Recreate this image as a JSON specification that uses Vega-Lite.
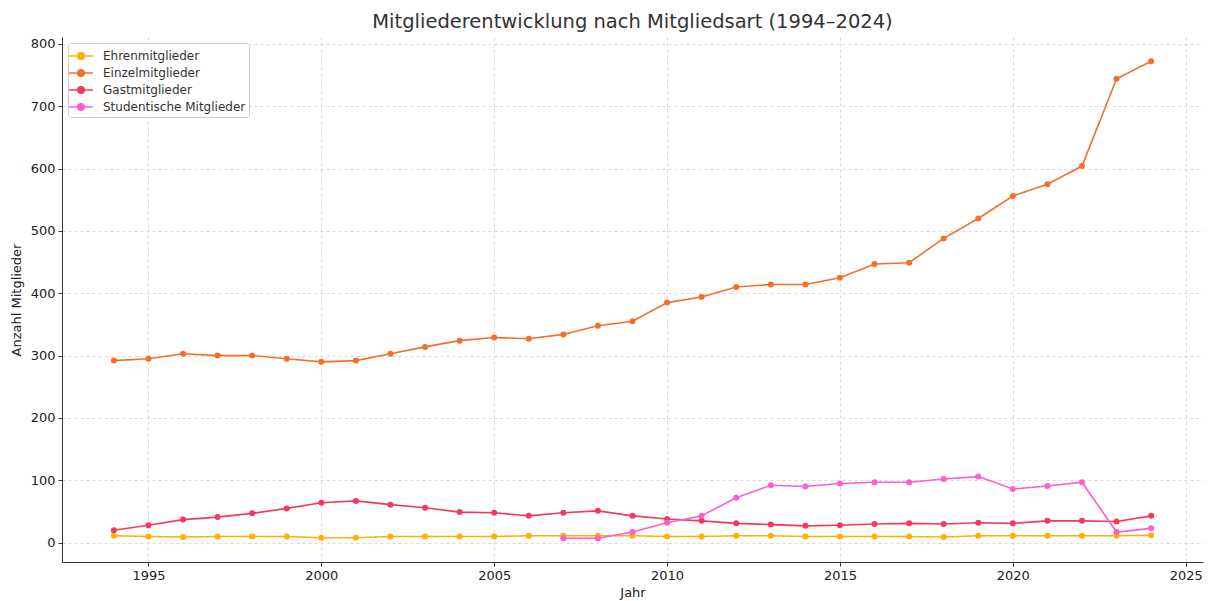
{
  "$schema": "https://vega.github.io/schema/vega-lite/v6.json",
  "width": 1141,
  "height": 525,
  "autosize": {"type": "none"},
  "padding": {"left": 62, "top": 37, "right": 7, "bottom": 39},
  "background": "white",
  "title": {
    "text": "Mitgliederentwicklung nach Mitgliedsart (1994–2024)",
    "font": "DejaVu Sans",
    "fontSize": 19.5,
    "fontWeight": "normal",
    "color": "#333333",
    "anchor": "middle",
    "offset": 5
  },
  "config": {
    "view": {"stroke": null},
    "font": "DejaVu Sans",
    "axis": {
      "labelFont": "DejaVu Sans",
      "titleFont": "DejaVu Sans",
      "labelFontSize": 13,
      "titleFontSize": 13,
      "titleFontWeight": "normal",
      "labelColor": "#222222",
      "titleColor": "#222222",
      "domainColor": "#333333",
      "tickColor": "#333333",
      "tickSize": 4,
      "gridColor": "#d0d0d0",
      "gridDash": [3, 3],
      "gridWidth": 0.8
    }
  },
  "data": {
    "values": [
      {"Jahr": 1994, "Art": "Ehrenmitglieder", "Anzahl": 11},
      {"Jahr": 1995, "Art": "Ehrenmitglieder", "Anzahl": 10},
      {"Jahr": 1996, "Art": "Ehrenmitglieder", "Anzahl": 9},
      {"Jahr": 1997, "Art": "Ehrenmitglieder", "Anzahl": 10},
      {"Jahr": 1998, "Art": "Ehrenmitglieder", "Anzahl": 10},
      {"Jahr": 1999, "Art": "Ehrenmitglieder", "Anzahl": 10},
      {"Jahr": 2000, "Art": "Ehrenmitglieder", "Anzahl": 8},
      {"Jahr": 2001, "Art": "Ehrenmitglieder", "Anzahl": 8},
      {"Jahr": 2002, "Art": "Ehrenmitglieder", "Anzahl": 10},
      {"Jahr": 2003, "Art": "Ehrenmitglieder", "Anzahl": 10},
      {"Jahr": 2004, "Art": "Ehrenmitglieder", "Anzahl": 10},
      {"Jahr": 2005, "Art": "Ehrenmitglieder", "Anzahl": 10},
      {"Jahr": 2006, "Art": "Ehrenmitglieder", "Anzahl": 11},
      {"Jahr": 2007, "Art": "Ehrenmitglieder", "Anzahl": 11},
      {"Jahr": 2008, "Art": "Ehrenmitglieder", "Anzahl": 11},
      {"Jahr": 2009, "Art": "Ehrenmitglieder", "Anzahl": 11},
      {"Jahr": 2010, "Art": "Ehrenmitglieder", "Anzahl": 10},
      {"Jahr": 2011, "Art": "Ehrenmitglieder", "Anzahl": 10},
      {"Jahr": 2012, "Art": "Ehrenmitglieder", "Anzahl": 11},
      {"Jahr": 2013, "Art": "Ehrenmitglieder", "Anzahl": 11},
      {"Jahr": 2014, "Art": "Ehrenmitglieder", "Anzahl": 10},
      {"Jahr": 2015, "Art": "Ehrenmitglieder", "Anzahl": 10},
      {"Jahr": 2016, "Art": "Ehrenmitglieder", "Anzahl": 10},
      {"Jahr": 2017, "Art": "Ehrenmitglieder", "Anzahl": 10},
      {"Jahr": 2018, "Art": "Ehrenmitglieder", "Anzahl": 9},
      {"Jahr": 2019, "Art": "Ehrenmitglieder", "Anzahl": 11},
      {"Jahr": 2020, "Art": "Ehrenmitglieder", "Anzahl": 11},
      {"Jahr": 2021, "Art": "Ehrenmitglieder", "Anzahl": 11},
      {"Jahr": 2022, "Art": "Ehrenmitglieder", "Anzahl": 11},
      {"Jahr": 2023, "Art": "Ehrenmitglieder", "Anzahl": 11},
      {"Jahr": 2024, "Art": "Ehrenmitglieder", "Anzahl": 12},
      {"Jahr": 1994, "Art": "Einzelmitglieder", "Anzahl": 292},
      {"Jahr": 1995, "Art": "Einzelmitglieder", "Anzahl": 295},
      {"Jahr": 1996, "Art": "Einzelmitglieder", "Anzahl": 303},
      {"Jahr": 1997, "Art": "Einzelmitglieder", "Anzahl": 300},
      {"Jahr": 1998, "Art": "Einzelmitglieder", "Anzahl": 300},
      {"Jahr": 1999, "Art": "Einzelmitglieder", "Anzahl": 295},
      {"Jahr": 2000, "Art": "Einzelmitglieder", "Anzahl": 290},
      {"Jahr": 2001, "Art": "Einzelmitglieder", "Anzahl": 292},
      {"Jahr": 2002, "Art": "Einzelmitglieder", "Anzahl": 303},
      {"Jahr": 2003, "Art": "Einzelmitglieder", "Anzahl": 314},
      {"Jahr": 2004, "Art": "Einzelmitglieder", "Anzahl": 324},
      {"Jahr": 2005, "Art": "Einzelmitglieder", "Anzahl": 329},
      {"Jahr": 2006, "Art": "Einzelmitglieder", "Anzahl": 327},
      {"Jahr": 2007, "Art": "Einzelmitglieder", "Anzahl": 334},
      {"Jahr": 2008, "Art": "Einzelmitglieder", "Anzahl": 348},
      {"Jahr": 2009, "Art": "Einzelmitglieder", "Anzahl": 355},
      {"Jahr": 2010, "Art": "Einzelmitglieder", "Anzahl": 385},
      {"Jahr": 2011, "Art": "Einzelmitglieder", "Anzahl": 394},
      {"Jahr": 2012, "Art": "Einzelmitglieder", "Anzahl": 410},
      {"Jahr": 2013, "Art": "Einzelmitglieder", "Anzahl": 414},
      {"Jahr": 2014, "Art": "Einzelmitglieder", "Anzahl": 414},
      {"Jahr": 2015, "Art": "Einzelmitglieder", "Anzahl": 425},
      {"Jahr": 2016, "Art": "Einzelmitglieder", "Anzahl": 447},
      {"Jahr": 2017, "Art": "Einzelmitglieder", "Anzahl": 449},
      {"Jahr": 2018, "Art": "Einzelmitglieder", "Anzahl": 488},
      {"Jahr": 2019, "Art": "Einzelmitglieder", "Anzahl": 520},
      {"Jahr": 2020, "Art": "Einzelmitglieder", "Anzahl": 556},
      {"Jahr": 2021, "Art": "Einzelmitglieder", "Anzahl": 575},
      {"Jahr": 2022, "Art": "Einzelmitglieder", "Anzahl": 604},
      {"Jahr": 2023, "Art": "Einzelmitglieder", "Anzahl": 744},
      {"Jahr": 2024, "Art": "Einzelmitglieder", "Anzahl": 772},
      {"Jahr": 1994, "Art": "Gastmitglieder", "Anzahl": 20},
      {"Jahr": 1995, "Art": "Gastmitglieder", "Anzahl": 28},
      {"Jahr": 1996, "Art": "Gastmitglieder", "Anzahl": 37},
      {"Jahr": 1997, "Art": "Gastmitglieder", "Anzahl": 41},
      {"Jahr": 1998, "Art": "Gastmitglieder", "Anzahl": 47},
      {"Jahr": 1999, "Art": "Gastmitglieder", "Anzahl": 55},
      {"Jahr": 2000, "Art": "Gastmitglieder", "Anzahl": 64},
      {"Jahr": 2001, "Art": "Gastmitglieder", "Anzahl": 67},
      {"Jahr": 2002, "Art": "Gastmitglieder", "Anzahl": 61},
      {"Jahr": 2003, "Art": "Gastmitglieder", "Anzahl": 56},
      {"Jahr": 2004, "Art": "Gastmitglieder", "Anzahl": 49},
      {"Jahr": 2005, "Art": "Gastmitglieder", "Anzahl": 48},
      {"Jahr": 2006, "Art": "Gastmitglieder", "Anzahl": 43},
      {"Jahr": 2007, "Art": "Gastmitglieder", "Anzahl": 48},
      {"Jahr": 2008, "Art": "Gastmitglieder", "Anzahl": 51},
      {"Jahr": 2009, "Art": "Gastmitglieder", "Anzahl": 43},
      {"Jahr": 2010, "Art": "Gastmitglieder", "Anzahl": 38},
      {"Jahr": 2011, "Art": "Gastmitglieder", "Anzahl": 35},
      {"Jahr": 2012, "Art": "Gastmitglieder", "Anzahl": 31},
      {"Jahr": 2013, "Art": "Gastmitglieder", "Anzahl": 29},
      {"Jahr": 2014, "Art": "Gastmitglieder", "Anzahl": 27},
      {"Jahr": 2015, "Art": "Gastmitglieder", "Anzahl": 28},
      {"Jahr": 2016, "Art": "Gastmitglieder", "Anzahl": 30},
      {"Jahr": 2017, "Art": "Gastmitglieder", "Anzahl": 31},
      {"Jahr": 2018, "Art": "Gastmitglieder", "Anzahl": 30},
      {"Jahr": 2019, "Art": "Gastmitglieder", "Anzahl": 32},
      {"Jahr": 2020, "Art": "Gastmitglieder", "Anzahl": 31},
      {"Jahr": 2021, "Art": "Gastmitglieder", "Anzahl": 35},
      {"Jahr": 2022, "Art": "Gastmitglieder", "Anzahl": 35},
      {"Jahr": 2023, "Art": "Gastmitglieder", "Anzahl": 34},
      {"Jahr": 2024, "Art": "Gastmitglieder", "Anzahl": 43},
      {"Jahr": 2007, "Art": "Studentische Mitglieder", "Anzahl": 7},
      {"Jahr": 2008, "Art": "Studentische Mitglieder", "Anzahl": 7},
      {"Jahr": 2009, "Art": "Studentische Mitglieder", "Anzahl": 17},
      {"Jahr": 2010, "Art": "Studentische Mitglieder", "Anzahl": 32},
      {"Jahr": 2011, "Art": "Studentische Mitglieder", "Anzahl": 43},
      {"Jahr": 2012, "Art": "Studentische Mitglieder", "Anzahl": 72},
      {"Jahr": 2013, "Art": "Studentische Mitglieder", "Anzahl": 92},
      {"Jahr": 2014, "Art": "Studentische Mitglieder", "Anzahl": 90},
      {"Jahr": 2015, "Art": "Studentische Mitglieder", "Anzahl": 95},
      {"Jahr": 2016, "Art": "Studentische Mitglieder", "Anzahl": 97},
      {"Jahr": 2017, "Art": "Studentische Mitglieder", "Anzahl": 97},
      {"Jahr": 2018, "Art": "Studentische Mitglieder", "Anzahl": 102},
      {"Jahr": 2019, "Art": "Studentische Mitglieder", "Anzahl": 106},
      {"Jahr": 2020, "Art": "Studentische Mitglieder", "Anzahl": 86},
      {"Jahr": 2021, "Art": "Studentische Mitglieder", "Anzahl": 91},
      {"Jahr": 2022, "Art": "Studentische Mitglieder", "Anzahl": 97},
      {"Jahr": 2023, "Art": "Studentische Mitglieder", "Anzahl": 17},
      {"Jahr": 2024, "Art": "Studentische Mitglieder", "Anzahl": 23}
    ]
  },
  "mark": {"type": "line", "strokeWidth": 1.6, "point": {"filled": true, "size": 36}},
  "encoding": {
    "x": {
      "field": "Jahr",
      "type": "quantitative",
      "title": "Jahr",
      "scale": {"domain": [1992.5, 2025.5], "nice": false, "zero": false},
      "axis": {"values": [1995, 2000, 2005, 2010, 2015, 2020, 2025], "format": "d", "titlePadding": 4, "labelPadding": 3}
    },
    "y": {
      "field": "Anzahl",
      "type": "quantitative",
      "title": "Anzahl Mitglieder",
      "scale": {"domain": [-31, 811], "nice": false, "zero": false},
      "axis": {"values": [0, 100, 200, 300, 400, 500, 600, 700, 800], "titlePadding": 7, "labelPadding": 3}
    },
    "color": {
      "field": "Art",
      "type": "nominal",
      "scale": {
        "domain": ["Ehrenmitglieder", "Einzelmitglieder", "Gastmitglieder", "Studentische Mitglieder"],
        "range": ["#ffb000", "#f4702a", "#f23a5c", "#ff5ccd"]
      },
      "legend": {
        "title": null,
        "orient": "none",
        "legendX": 6,
        "legendY": 6,
        "fillColor": "white",
        "strokeColor": "#cccccc",
        "cornerRadius": 3,
        "padding": 3,
        "labelFont": "DejaVu Sans",
        "labelFontSize": 12,
        "labelColor": "#333333",
        "labelOffset": 12,
        "symbolType": "M-1.33,0L1.33,0M-0.36,0A0.36,0.36 0 1,1 0.36,0A0.36,0.36 0 1,1 -0.36,0Z",
        "symbolSize": 324,
        "symbolStrokeWidth": 1.6,
        "rowPadding": 0
      }
    }
  }
}
